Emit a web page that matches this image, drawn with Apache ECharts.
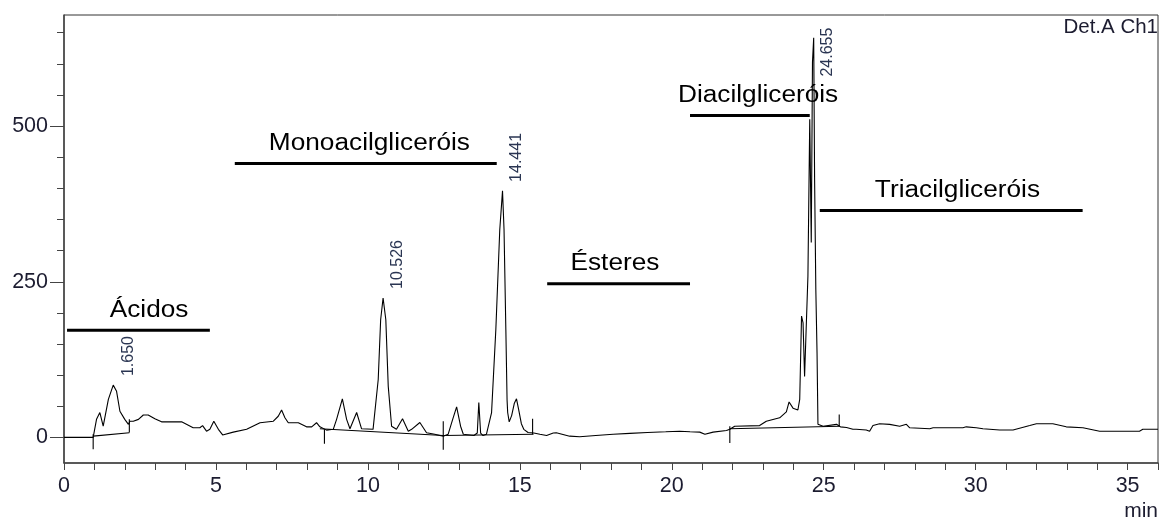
<!DOCTYPE html>
<html><head><meta charset="utf-8">
<script src="https://cdn.jsdelivr.net/npm/echarts@6/dist/echarts.min.js"></script>
<style>html,body{margin:0;padding:0;background:#fff}#c{width:1159px;height:522px}</style>
</head><body><div id="c"></div>
<script>
// ---- data ----
const traceTime = [0,0.5,0.96,1.07,1.18,1.29,1.46,1.62,1.73,1.84,2.0,2.12,2.17,2.28,2.45,2.61,2.77,2.99,3.21,3.87,4.25,4.47,4.56,4.69,4.80,4.93,5.08,5.22,5.57,6.01,6.45,6.89,7.05,7.16,7.27,7.38,7.71,7.98,8.15,8.31,8.42,8.64,8.86,8.97,9.16,9.30,9.41,9.63,9.79,10.17,10.34,10.42,10.50,10.59,10.67,10.78,10.94,11.14,11.33,11.44,11.71,11.93,12.20,12.48,12.64,12.79,12.92,13.05,13.14,13.49,13.60,13.65,13.71,13.79,13.90,14.07,14.21,14.34,14.43,14.48,14.54,14.58,14.60,14.65,14.73,14.82,14.89,14.96,15.05,15.13,15.27,15.46,15.66,15.88,16.10,16.2,16.64,16.97,17.5,18.07,18.62,19.2,19.8,20.26,20.6,20.92,21.09,21.36,21.8,21.91,22.07,22.89,23.11,23.55,23.77,23.86,23.99,24.15,24.21,24.27,24.32,24.37,24.43,24.48,24.54,24.57,24.59,24.63,24.67,24.70,24.74,24.78,24.81,24.98,25.42,25.55,25.75,25.96,26.07,26.40,26.51,26.62,26.84,27.17,27.50,27.72,27.83,28.49,28.6,29.58,29.69,30.02,30.24,30.79,31.23,31.78,32.0,32.54,32.98,33.53,34.08,35.39,35.5,36.0];
const traceSignal = [0,0,0,29,40,18,61,84,74,42,29,21,26,26,29,36,36,30,25,25,15.5,15.5,19,10,13,26,13,4,8.5,13,23.6,26,34,44,31.5,23.6,23.6,17,17,23.6,17,11.7,13,29,62,29,14,40,14,13,93,189,224,189,82,18,13,30,10,13,24,7.5,5,2,5,29,49,18,5,3,7,56,7,3,5,40,173,334,396,334,173,60,40,25,35,55,62,45,22,13,8,7,5,3,7,7.5,2,1,3,5,6.5,8,9,10,9,8.5,5,8.5,11,13,18,19,26,31.5,41,57,47,44,61,195,184,98,98,259,511,511,313,603,642,414,238,136,21,18,21,17,16,13,13,12,10,19,22,21,18,21,15.5,14,15.5,15.5,17,15.5,14,12,12,19,22,22,17,15.5,10,10,13,13];

// integration baselines: start time, start signal, end time, end signal
const baselineStartTime = [0.96, 8.42, 12.48, 21.91];
const baselineStartSignal = [2, 14, 3, 14];
const baselineEndTime = [2.15, 12.48, 15.45, 25.53];
const baselineEndSignal = [7.5, 3, 5, 18];

// integration markers (short vertical ticks)
const markerTime = [0.96, 2.15, 8.57, 12.48, 15.42, 21.91, 25.51];
const markerTop = [5, 29, 13, 26, 30, 18, 37];
const markerBottom = [-19, 8, -10, -20, 5, -9, 18];

// labelled peaks
const peakTimes = [1.650, 10.526, 14.441, 24.655];
const peakHeights = [84, 224, 396, 642];

// compound-class annotations
const groupNames = ['Ácidos', 'Monoacilgliceróis', 'Ésteres', 'Diacilgliceróis', 'Triacilgliceróis'];
const groupStart = [0.1, 5.62, 15.9, 20.6, 24.87];
const groupEnd = [4.8, 14.24, 20.6, 24.54, 33.52];
const groupLevel = [172, 440, 247, 517, 364.6];
const groupLabelTime = [2.80, 10.05, 18.13, 22.84, 29.40];

// axes
const xLabelValues = [0, 5, 10, 15, 20, 25, 30, 35];
const xTickValues = [0,1,2,3,4,5,6,7,8,9,10,11,12,13,14,15,16,17,18,19,20,21,22,23,24,25,26,27,28,29,30,31,32,33,34,35,36];
const yLabelValues = [0, 250, 500];
const yMinorTickValues = [0,50,100,150,200,250,300,350,400,450,500,550,600,650];
const detectorLabel = 'Det.A Ch1';
const xUnit = 'min';

// ---- chart ----
const FONT = 'Liberation Sans, Arial, sans-serif';
const TICKCOL = '#1c1c30';
const AXCOL = '#444';
const X_MIN = 0, X_MAX = 36, Y_MIN = -41.1, Y_MAX = 678.5;

const chart = echarts.init(document.getElementById('c'), null, {renderer: 'canvas'});

const trace = traceTime.map((t, i) => [t, traceSignal[i]]);

const option = {
  animation: false,
  backgroundColor: '#fff',
  grid: {left: 64, right: 1, top: 15, bottom: 59, show: true, borderColor: '#333', borderWidth: 1,
         containLabel: false, outerBoundsMode: 'none'},
  xAxis: {
    type: 'value', min: X_MIN, max: X_MAX,
    axisLine: {show: true, onZero: false, lineStyle: {color: AXCOL, width: 1.5}},
    axisTick: {show: true, inside: false, length: 7, customValues: xTickValues, lineStyle: {color: AXCOL, width: 1}},
    axisLabel: {show: true, customValues: xLabelValues, margin: 12, fontSize: 21.5, fontFamily: FONT, color: TICKCOL},
    splitLine: {show: false}
  },
  yAxis: [{
    type: 'value', min: Y_MIN, max: Y_MAX, position: 'left',
    axisLine: {show: true, onZero: false, lineStyle: {color: AXCOL, width: 1.5}},
    axisTick: {show: true, inside: false, length: 14, customValues: yLabelValues, lineStyle: {color: AXCOL, width: 1}},
    axisLabel: {show: true, customValues: yLabelValues, margin: 16, fontSize: 21.5, fontFamily: FONT, color: TICKCOL},
    splitLine: {show: false}
  }, {
    type: 'value', min: Y_MIN, max: Y_MAX, position: 'left', offset: 0,
    axisLine: {show: false},
    axisTick: {show: true, inside: false, length: 7, customValues: yMinorTickValues, lineStyle: {color: AXCOL, width: 1}},
    axisLabel: {show: false, customValues: yMinorTickValues},
    splitLine: {show: false}
  }],
  series: [
    {
      type: 'line', data: trace, showSymbol: false, symbol: 'none', smooth: false,
      lineStyle: {color: '#000', width: 1.1}, z: 3, silent: true
    },
    {
      type: 'custom', coordinateSystem: 'cartesian2d', z: 2, silent: true,
      data: baselineStartTime.map((t, i) => [t, baselineStartSignal[i], baselineEndTime[i], baselineEndSignal[i]]),
      renderItem: (params, api) => {
        const a = api.coord([api.value(0), api.value(1)]);
        const b = api.coord([api.value(2), api.value(3)]);
        return {type: 'line', shape: {x1: a[0], y1: a[1], x2: b[0], y2: b[1]}, style: {stroke: '#000', lineWidth: 1.1}};
      }
    },
    {
      type: 'custom', coordinateSystem: 'cartesian2d', z: 2, silent: true,
      data: markerTime.map((t, i) => [t, markerTop[i], markerBottom[i]]),
      renderItem: (params, api) => {
        const a = api.coord([api.value(0), api.value(1)]);
        const b = api.coord([api.value(0), api.value(2)]);
        return {type: 'line', shape: {x1: a[0], y1: a[1], x2: b[0], y2: b[1]}, style: {stroke: '#000', lineWidth: 1.1}};
      }
    },
    {
      type: 'custom', coordinateSystem: 'cartesian2d', z: 4, silent: true,
      data: peakTimes.map((t, i) => [t, peakHeights[i]]),
      renderItem: (params, api) => {
        const i = params.dataIndex;
        const p = api.coord([api.value(0), api.value(1)]);
        const txt = peakTimes[i].toFixed(3);
        const len = txt.length * 8.6;
        const startY = Math.max(p[1] - 9, 25 + len);
        return {type: 'text', x: p[0] + 14, y: startY, rotation: Math.PI / 2,
          style: {text: txt, fontSize: 16, fontFamily: FONT, fill: '#2a3552', align: 'left', verticalAlign: 'middle'}};
      }
    },
    {
      type: 'custom', coordinateSystem: 'cartesian2d', z: 5, silent: true,
      data: groupNames.map((n, i) => [groupLabelTime[i], groupLevel[i]]),
      renderItem: (params, api) => {
        const i = params.dataIndex;
        const a = api.coord([groupStart[i], groupLevel[i]]);
        const b = api.coord([groupEnd[i], groupLevel[i]]);
        const c = api.coord([api.value(0), api.value(1)]);
        return {type: 'group', children: [
          {type: 'line', shape: {x1: a[0], y1: a[1], x2: b[0], y2: b[1]}, style: {stroke: '#000', lineWidth: 3}},
          {type: 'text', x: c[0], y: c[1] - 20, scaleX: 1.14,
            style: {text: groupNames[i], fontSize: 23, fontFamily: FONT, fill: '#000', align: 'center', verticalAlign: 'middle'}}
        ]};
      }
    }
  ],
  graphic: [
    {type: 'text', right: 1, top: 17, style: {text: detectorLabel, fontSize: 20.5, fontFamily: FONT, fill: TICKCOL}},
    {type: 'text', right: 1, top: 501, style: {text: xUnit, fontSize: 21, fontFamily: FONT, fill: TICKCOL}}
  ]
};
chart.setOption(option);
</script>
</body></html>
